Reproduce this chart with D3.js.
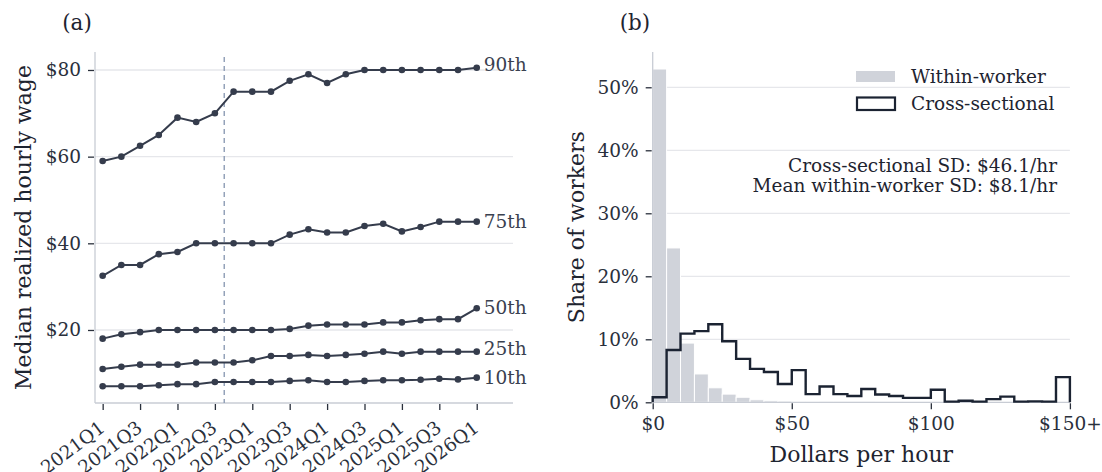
<!DOCTYPE html>
<html><head><meta charset="utf-8">
<script src="https://cdn.jsdelivr.net/npm/d3@7"></script>
<style>
html,body{margin:0;padding:0;background:#fff;}
svg{display:block;font-family:"DejaVu Serif",serif;}
</style></head>
<body>
<svg id="chart" width="1102" height="472"></svg>
<script>
// ---------- data ----------
const quarters = ["2021Q1","2021Q2","2021Q3","2021Q4","2022Q1","2022Q2","2022Q3","2022Q4",
  "2023Q1","2023Q2","2023Q3","2023Q4","2024Q1","2024Q2","2024Q3","2024Q4",
  "2025Q1","2025Q2","2025Q3","2025Q4","2026Q1"];
const p90 = [59,60,62.5,65,69,68,70,75,75,75,77.5,79,77,79,80,80,80,80,80,80,80.5];
const p75 = [32.5,35,35,37.5,38,40,40,40,40,40,42,43.25,42.5,42.5,44,44.5,42.75,43.75,45,45,45];
const p50 = [18,19,19.5,20,20,20,20,20,20,20,20.25,21,21.25,21.25,21.25,21.75,21.75,22.25,22.5,22.5,25];
const p25 = [11,11.5,12,12,12,12.5,12.5,12.5,13,14,14,14.25,14,14.25,14.5,15,14.5,15,15,15,15];
const p10 = [7,7,7,7.25,7.5,7.5,8,8,8,8,8.25,8.4,8,8,8.25,8.4,8.4,8.5,8.75,8.6,9];
const seriesNames = ["90th","75th","50th","25th","10th"];
const wageTicks = [20,40,60,80];
const xTickEvery = 2;
const policyBreak = 6.5; // between 2022Q3 and 2022Q4

const binEdges = d3.range(0,155,5);
const withinShare = [52.9,24.5,9.4,4.5,2.3,1.3,0.8,0.4,0.25,0.2,0.15,0.12,0.1,0.1,0.08,0.08,0.06,0.06,0.05,0.05,0.05,0.04,0.04,0.03,0.03,0.03,0.02,0.02,0.02,0.02];
const crossShare = [0.8,8.3,10.9,11.3,12.4,9.7,6.9,5.3,4.8,2.9,5.1,1.3,2.5,1.3,1.0,2.1,1.25,1.0,0.7,0.7,2.0,0.1,0.25,0.1,0.5,0.9,0.1,0.15,0.1,4.0];
const dollarTicks = [0,50,100,150];
const dollarTickLabels = ["$0","$50","$100","$150+"];
const shareTicks = [0,10,20,30,40,50];
const legendLabels = ["Within-worker","Cross-sectional"];
const annotLines = ["Cross-sectional SD: $46.1/hr","Mean within-worker SD: $8.1/hr"];

// ---------- style ----------
const C = {line:"#353c4c", text:"#2a303c", grid:"#e6e7eb", spine:"#c8ccd4", tick:"#2a303c",
  dash:"#8d9cb5", bar:"#d0d3da", step:"#1b2332", label:"#1e2430"};
const FT = 18.5, FL = 22, FP = 21.5;
const svg = d3.select("#chart");

// ---------- panel (a) ----------
const ax = {l:95, r:513, t:52, b:403};
const xA = d3.scaleLinear().domain([-0.41, 21.94]).range([ax.l, ax.r]);
const yA = d3.scaleLinear().domain([3.15, 84.15]).range([ax.b, ax.t]);
const gA = svg.append("g");

gA.selectAll("line.grid").data(wageTicks).join("line")
  .attr("x1",ax.l).attr("x2",ax.r).attr("y1",d=>yA(d)).attr("y2",d=>yA(d))
  .attr("stroke",C.grid).attr("stroke-width",1.3);

gA.append("line").attr("x1",ax.l).attr("x2",ax.l).attr("y1",ax.t).attr("y2",ax.b).attr("stroke",C.spine).attr("stroke-width",1.3);
gA.append("line").attr("x1",ax.l).attr("x2",ax.r).attr("y1",ax.b).attr("y2",ax.b).attr("stroke",C.spine).attr("stroke-width",1.3);

const yAxA = d3.axisLeft(yA).tickValues(wageTicks).tickFormat(d=>"$"+d).tickSize(6).tickPadding(7);
const gyA = gA.append("g").attr("transform",`translate(${ax.l-1},0)`).call(yAxA);
gyA.select(".domain").remove();
gyA.selectAll("line").attr("stroke",C.tick).attr("stroke-width",1.3);
gyA.selectAll("text").attr("font-family","DejaVu Serif").attr("font-size",FT).attr("fill",C.text);

const xIdx = d3.range(0, quarters.length, xTickEvery);
const xAxA = d3.axisBottom(xA).tickValues(xIdx).tickFormat(i=>quarters[i]).tickSize(6);
const gxA = gA.append("g").attr("transform",`translate(0,${ax.b+1})`).call(xAxA);
gxA.select(".domain").remove();
gxA.selectAll("line").attr("stroke",C.tick).attr("stroke-width",1.3);
gxA.selectAll("text").attr("font-family","DejaVu Serif").attr("font-size",FT).attr("fill",C.text)
  .attr("text-anchor","end").attr("x",0).attr("y",0).attr("dy","0.35em")
  .attr("transform","translate(-1,21) rotate(-37)");

gA.append("line").attr("x1",xA(policyBreak)).attr("x2",xA(policyBreak)).attr("y1",ax.t+5).attr("y2",ax.b)
  .attr("stroke",C.dash).attr("stroke-width",1.4).attr("stroke-dasharray","5,4");

const allSeries = [p90,p75,p50,p25,p10];
const lineGen = d3.line().x((d,i)=>xA(i)).y(d=>yA(d));
const labelDy = [-3,0,-1,-3,0];
allSeries.forEach((s,k)=>{
  gA.append("path").attr("d",lineGen(s)).attr("fill","none").attr("stroke",C.line).attr("stroke-width",2);
  gA.selectAll(null).data(s).join("circle").attr("cx",(d,i)=>xA(i)).attr("cy",d=>yA(d)).attr("r",3.3).attr("fill",C.line);
  gA.append("text").attr("x",xA(s.length-1)+7).attr("y",yA(s[s.length-1])+labelDy[k]).attr("dy","0.35em")
    .attr("font-size",FT).attr("fill","#3a4150").text(seriesNames[k]);
});

gA.append("text").attr("transform",`translate(31,${(ax.t+ax.b)/2}) rotate(-90)`).attr("text-anchor","middle")
  .attr("font-size",FL).attr("fill",C.label).text("Median realized hourly wage");
svg.append("text").attr("x",77).attr("y",30).attr("text-anchor","middle").attr("font-size",FP).attr("fill",C.label).text("(a)");

// ---------- panel (b) ----------
const bx = {l:652.7, r:1069.9, t:52, b:402.3};
const xB = d3.scaleLinear().domain([0,150]).range([bx.l,bx.r]);
const yB = d3.scaleLinear().domain([0,55.6]).range([bx.b,bx.t]);
const gB = svg.append("g");

gB.selectAll("line.grid").data(shareTicks.filter(d=>d>0)).join("line")
  .attr("x1",bx.l).attr("x2",bx.r).attr("y1",d=>yB(d)).attr("y2",d=>yB(d))
  .attr("stroke",C.grid).attr("stroke-width",1.3);

const bins = withinShare.map((v,i)=>({x0:binEdges[i],x1:binEdges[i+1],w:v,c:crossShare[i]}));
gB.selectAll("rect.w").data(bins).join("rect")
  .attr("x",d=>xB(d.x0)).attr("width",d=>xB(d.x1)-xB(d.x0))
  .attr("y",d=>yB(d.w)).attr("height",d=>yB(0)-yB(d.w))
  .attr("fill",C.bar).attr("stroke","#fff").attr("stroke-width",1);

gB.append("line").attr("x1",bx.l).attr("x2",bx.l).attr("y1",bx.t).attr("y2",bx.b).attr("stroke",C.spine).attr("stroke-width",1.3);
gB.append("line").attr("x1",bx.l).attr("x2",bx.r).attr("y1",bx.b).attr("y2",bx.b).attr("stroke",C.spine).attr("stroke-width",1.3);

const pts = [[xB(0),yB(0)]];
bins.forEach(d=>{pts.push([xB(d.x0),yB(d.c)]);pts.push([xB(d.x1),yB(d.c)]);});
pts.push([xB(150),yB(0)]);
gB.append("path").attr("d",d3.line()(pts)).attr("fill","none").attr("stroke",C.step).attr("stroke-width",2.4).attr("stroke-linejoin","miter");

const yAxB = d3.axisLeft(yB).tickValues(shareTicks).tickFormat(d=>d+"%").tickSize(6).tickPadding(7);
const gyB = gB.append("g").attr("transform",`translate(${bx.l-1},0)`).call(yAxB);
gyB.select(".domain").remove();
gyB.selectAll("line").attr("stroke",C.tick).attr("stroke-width",1.3);
gyB.selectAll("text").attr("font-family","DejaVu Serif").attr("font-size",FT).attr("fill",C.text);

const xAxB = d3.axisBottom(xB).tickValues(dollarTicks).tickFormat((d,i)=>dollarTickLabels[i]).tickSize(6).tickPadding(8);
const gxB = gB.append("g").attr("transform",`translate(0,${bx.b+1})`).call(xAxB);
gxB.select(".domain").remove();
gxB.selectAll("line").attr("stroke",C.tick).attr("stroke-width",1.3);
gxB.selectAll("text").attr("font-family","DejaVu Serif").attr("font-size",FT).attr("fill",C.text);

gB.append("text").attr("x",(bx.l+bx.r)/2).attr("y",462).attr("text-anchor","middle")
  .attr("font-size",FL).attr("fill",C.label).text("Dollars per hour");
gB.append("text").attr("transform",`translate(584,${(bx.t+bx.b)/2}) rotate(-90)`).attr("text-anchor","middle")
  .attr("font-size",FL).attr("fill",C.label).text("Share of workers");
svg.append("text").attr("x",635).attr("y",30).attr("text-anchor","middle").attr("font-size",FP).attr("fill",C.label).text("(b)");

const lg = gB.append("g");
lg.append("rect").attr("x",856).attr("y",71).attr("width",39).attr("height",11).attr("fill",C.bar);
lg.append("rect").attr("x",857).attr("y",97.5).attr("width",38).attr("height",12.5).attr("fill","#fff").attr("stroke",C.step).attr("stroke-width",2.2);
legendLabels.forEach((t,i)=>{
  lg.append("text").attr("x",911).attr("y",76.5+i*27).attr("dy","0.35em").attr("font-size",FT).attr("fill",C.label).text(t);
});
annotLines.forEach((t,i)=>{
  gB.append("text").attr("x",1057).attr("y",172+i*19.5).attr("text-anchor","end").attr("font-size",FT).attr("fill",C.label).text(t);
});
</script>
</body></html>
